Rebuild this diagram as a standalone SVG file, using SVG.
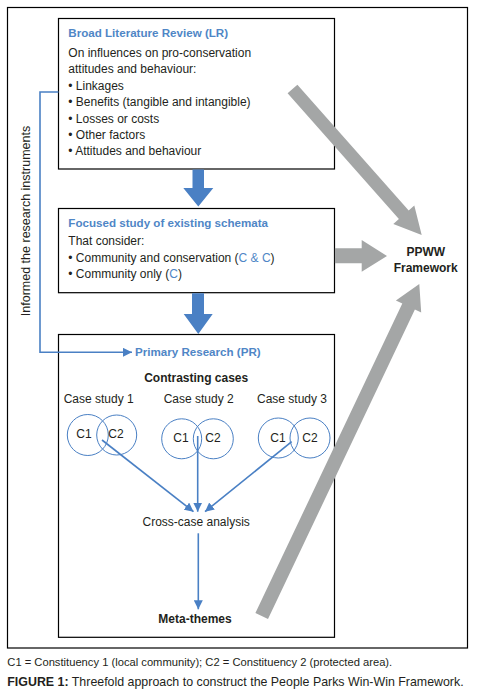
<svg xmlns="http://www.w3.org/2000/svg" width="478" height="693" viewBox="0 0 478 693">
<defs>
<style>
text{font-family:"Liberation Sans",Arial,sans-serif;fill:#231f20}
.t{font-size:12px}
.h{font-size:11.6px;font-weight:bold;fill:#4f86c6}
.b{font-weight:bold}
.blue{fill:#4f86c6}
.box{fill:#fff;stroke:#000;stroke-width:1.2}
.circ{fill:none;stroke:#4a80c4;stroke-width:1}
.thin{fill:none;stroke:#4a80c4;stroke-width:1.6}
.big{fill:#4a80c4}
.gray{fill:#a4a6a6}
</style>
<marker id="ah" viewBox="0 0 10 10" refX="10" refY="5" markerWidth="9" markerHeight="9" markerUnits="userSpaceOnUse" orient="auto">
<path d="M0,0 L10,5 L0,10 Z" fill="#4a80c4"/>
</marker>
</defs>
<rect x="0" y="0" width="478" height="693" fill="#fff"/>
<rect x="7.5" y="7.5" width="460" height="640.5" fill="none" stroke="#000" stroke-width="1.2"/>

<g id="lr">
<rect class="box" x="58.5" y="18.5" width="276" height="150.5"/>
<text class="h" x="68.3" y="37">Broad Literature Review (LR)</text>
<text class="t" x="68.3" y="57">On influences on pro-conservation</text>
<text class="t" x="68.3" y="73.3">attitudes and behaviour:</text>
<text class="t" x="68.3" y="89.7">• Linkages</text>
<text class="t" x="68.3" y="106.2">• Benefits (tangible and intangible)</text>
<text class="t" x="68.3" y="122.6">• Losses or costs</text>
<text class="t" x="68.3" y="139">• Other factors</text>
<text class="t" x="68.3" y="155.3">• Attitudes and behaviour</text>
</g>

<g id="focused">
<rect class="box" x="58.5" y="208.5" width="276" height="84.2"/>
<text class="h" x="68.3" y="226.7">Focused study of existing schemata</text>
<text class="t" x="68.3" y="245">That consider:</text>
<text class="t" x="68.3" y="261.7">• Community and conservation (<tspan class="blue">C &amp; C</tspan>)</text>
<text class="t" x="68.3" y="278.3">• Community only (<tspan class="blue">C</tspan>)</text>
</g>

<g id="pr">
<rect class="box" x="58.5" y="334.5" width="276" height="302.8"/>
<text class="h" x="135" y="355.7">Primary Research (PR)</text>
<text class="t b" x="196.2" y="381.7" text-anchor="middle">Contrasting cases</text>
</g>

<g id="case1">
<text class="t" x="98.7" y="402.7" text-anchor="middle">Case study 1</text>
<circle class="circ" cx="87.8" cy="435" r="20.5"/>
<circle class="circ" cx="116.7" cy="435" r="20"/>
<text class="t" x="84" y="438.3" text-anchor="middle">C1</text>
<text class="t" x="116" y="438.3" text-anchor="middle">C2</text>
</g>
<g id="case2">
<text class="t" x="198.7" y="402.7" text-anchor="middle">Case study 2</text>
<circle class="circ" cx="181.7" cy="438.8" r="20"/>
<circle class="circ" cx="213.3" cy="438.8" r="20"/>
<text class="t" x="181" y="442" text-anchor="middle">C1</text>
<text class="t" x="213" y="442" text-anchor="middle">C2</text>
</g>
<g id="case3">
<text class="t" x="292" y="402.7" text-anchor="middle">Case study 3</text>
<circle class="circ" cx="278.3" cy="438" r="20"/>
<circle class="circ" cx="310" cy="438" r="20"/>
<text class="t" x="278" y="441.5" text-anchor="middle">C1</text>
<text class="t" x="310" y="441.5" text-anchor="middle">C2</text>
</g>
<g id="crosscase">
<text class="t" x="196.2" y="526" text-anchor="middle">Cross-case analysis</text>
</g>
<g id="metathemes">
<text class="t b" x="195" y="623.3" text-anchor="middle">Meta-themes</text>
</g>

<g id="ppww">
<text class="t b" x="425.8" y="256" text-anchor="middle">PPWW</text>
<text class="t b" x="425.7" y="272.3" text-anchor="middle">Framework</text>
</g>

<g id="side-label">
<text class="t" style="font-size:12.5px" transform="translate(29.5,221) rotate(-90)" text-anchor="middle">Informed the research instruments</text>
</g>

<g id="connectors">
<polyline class="thin" points="58.5,92 40,92 40,352.3 132,352.3" marker-end="url(#ah)"/>
<polygon class="big" points="192.5,169.6 204,169.6 204,188 213.3,188 198.3,206.5 183.3,188 192.5,188"/>
<polygon class="big" points="192,293.3 204,293.3 204,314 212.7,314 198.3,334 183.7,314 192,314"/>
<line class="thin" x1="102" y1="440" x2="193.5" y2="511.7" marker-end="url(#ah)"/>
<line class="thin" x1="197.7" y1="436" x2="197.7" y2="511.7" marker-end="url(#ah)"/>
<line class="thin" x1="291.7" y1="441.7" x2="205" y2="511.7" marker-end="url(#ah)"/>
<line class="thin" x1="198.3" y1="533.3" x2="198.3" y2="609.3" marker-end="url(#ah)"/>
<polygon class="gray" points="334.9,248.3 361.7,248.3 361.7,240 387,256 361.7,271.7 361.7,263.3 334.9,263.3"/>
<polygon class="gray" points="287.6,93.3 398.9,219.1 393.3,224.1 421.7,235 414.3,205.5 408.7,210.5 297.4,84.7"/>
<polygon class="gray" points="255.4,613 402.3,303.6 395.9,300.6 419.3,284 421.2,312.6 414.9,309.6 268,619"/>
</g>

<g id="caption">
<text x="7.3" y="665.7" style="font-size:11.2px">C1 = Constituency 1 (local community); C2 = Constituency 2 (protected area).</text>
<text x="7.3" y="685.7" style="font-size:12.4px"><tspan class="b">FIGURE 1:</tspan> Threefold approach to construct the People Parks Win-Win Framework.</text>
</g>
</svg>
